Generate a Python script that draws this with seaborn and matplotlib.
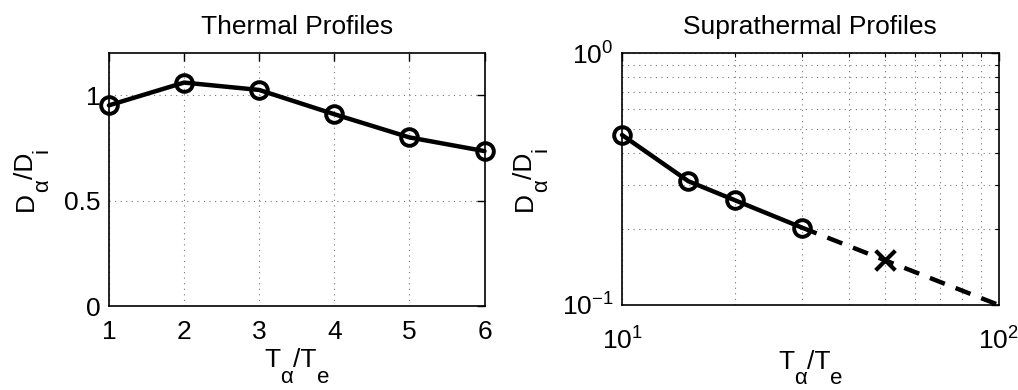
import numpy as np
import pandas as pd
import matplotlib
matplotlib.use("Agg")
import matplotlib.pyplot as plt
import seaborn as sns
from matplotlib.ticker import LogLocator, NullFormatter, FixedLocator

# Thermal profiles: diffusivity ratio vs temperature ratio
thermal_t = [1, 2, 3, 4, 5, 6]
thermal_d = [0.952, 1.06, 1.025, 0.91, 0.80, 0.735]

# Suprathermal profiles (log-log)
supra_t = [10, 15, 20, 30]
supra_d = [0.473, 0.31, 0.26, 0.203]

# Power-law extrapolation and the single extra estimate
extrap_t = [30, 100]
extrap_d = [0.203, 0.1]
cross_t = [50]
cross_d = [0.151]

# Axis label pieces: (text, is_subscript)
xlabel_parts = [("T", False), ("\u03b1", True), ("/T", False), ("e", True)]
ylabel_parts = [("D", False), ("\u03b1", True), ("/D", False), ("i", True)]

sns.set_style("white")
plt.rcParams["font.family"] = ["Liberation Sans", "DejaVu Sans"]
plt.rcParams["mathtext.fontset"] = "custom"
plt.rcParams["mathtext.rm"] = "Liberation Sans"
plt.rcParams["mathtext.it"] = "Liberation Sans"
plt.rcParams["mathtext.default"] = "regular"
for key in ("text.color", "axes.labelcolor", "xtick.color", "ytick.color",
            "axes.edgecolor"):
    plt.rcParams[key] = "black"

FS = 19        # main text size
FS_SUB = 16    # subscript size
SUB_DROP = 11  # subscript baseline drop, points

fig = plt.figure(figsize=(10.18, 3.90), dpi=100)
ax1 = fig.add_axes([0.107, 0.215, 0.369, 0.649])
ax2 = fig.add_axes([0.611, 0.218, 0.370, 0.646])

line_kw = dict(color="black", linewidth=3.2, marker="o", markersize=12,
               markerfacecolor="none", markeredgecolor="black", markeredgewidth=2.8)

df1 = pd.DataFrame({"T": thermal_t, "D": thermal_d})
sns.lineplot(data=df1, x="T", y="D", ax=ax1, **line_kw)
ax1.set_xlim(1, 6)
ax1.set_ylim(0, 1.2)
ax1.set_xticks([1, 2, 3, 4, 5, 6])
ax1.set_yticks([0, 0.5, 1])
ax1.set_yticklabels(["0", "0.5", "1"])
ax1.set_title("Thermal Profiles", fontsize=FS, pad=14)

df2 = pd.DataFrame({"T": supra_t, "D": supra_d})
df3 = pd.DataFrame({"T": extrap_t, "D": extrap_d})
df4 = pd.DataFrame({"T": cross_t, "D": cross_d})
sns.lineplot(data=df3, x="T", y="D", ax=ax2, color="black", linewidth=3.2,
             linestyle=(0, (3.6, 2.6)))
sns.lineplot(data=df2, x="T", y="D", ax=ax2, **line_kw)
sns.scatterplot(data=df4, x="T", y="D", ax=ax2, marker="x", s=200,
                color="black", linewidth=3.0)
ax2.set_xscale("log")
ax2.set_yscale("log")
ax2.set_xlim(10, 100)
ax2.set_ylim(0.1, 1)
ax2.xaxis.set_major_locator(FixedLocator([10, 100]))
ax2.yaxis.set_major_locator(FixedLocator([0.1, 1]))
ax2.xaxis.set_minor_locator(LogLocator(base=10, subs=np.arange(2, 10)))
ax2.yaxis.set_minor_locator(LogLocator(base=10, subs=np.arange(2, 10)))
ax2.xaxis.set_minor_formatter(NullFormatter())
ax2.yaxis.set_minor_formatter(NullFormatter())
ax2.set_title("Suprathermal Profiles", fontsize=FS, pad=14)

grid_kw = dict(color="#777777", linestyle=(0, (1, 4)), linewidth=0.8)
ax1.grid(True, which="major", **grid_kw)
ax2.grid(True, which="both", **grid_kw)

for ax in (ax1, ax2):
    ax.set_xlabel("")
    ax.set_ylabel("")
    ax.tick_params(axis="both", which="major", direction="in", length=6, width=1,
                   top=True, right=True, labelsize=FS, pad=6, colors="black")
    ax.tick_params(axis="both", which="minor", direction="in", length=3, width=0.8,
                   top=True, right=True)
    for s in ax.spines.values():
        s.set_visible(True)
        s.set_color("black")
        s.set_linewidth(1.2)
    for c in ax.lines + ax.collections:
        c.set_clip_on(False)
    if ax.get_legend() is not None:
        ax.get_legend().remove()

ax1.tick_params(axis="x", which="major", pad=10)
ax2.tick_params(axis="x", which="major", pad=16)

renderer = fig.canvas.get_renderer()


def text_width_pt(s, size):
    t = fig.text(0, 0, s, fontsize=size)
    w = t.get_window_extent(renderer).width * 72.0 / fig.dpi
    t.remove()
    return w


def sub_label(ax, parts, which, offset_pt):
    """Write a label with dropped subscripts, centred along one axis."""
    widths = [text_width_pt(s, FS_SUB if sub else FS) for s, sub in parts]
    pos = -sum(widths) / 2.0
    for (s, sub), w in zip(parts, widths):
        size = FS_SUB if sub else FS
        drop = SUB_DROP if sub else 0
        if which == "x":
            ax.annotate(s, xy=(0.5, 0), xycoords="axes fraction",
                        xytext=(pos, -offset_pt - drop), textcoords="offset points",
                        ha="left", va="baseline", fontsize=size, color="black",
                        annotation_clip=False)
        else:
            ax.annotate(s, xy=(0, 0.5), xycoords="axes fraction",
                        xytext=(-offset_pt + drop, pos), textcoords="offset points",
                        ha="left", va="baseline", rotation=90, rotation_mode="anchor",
                        fontsize=size, color="black", annotation_clip=False)
        pos += w


sub_label(ax1, xlabel_parts, "x", 44)
sub_label(ax2, xlabel_parts, "x", 46)
sub_label(ax1, ylabel_parts, "y", 55)
sub_label(ax2, ylabel_parts, "y", 65)

fig.savefig("out.png", dpi=100, facecolor="white")
